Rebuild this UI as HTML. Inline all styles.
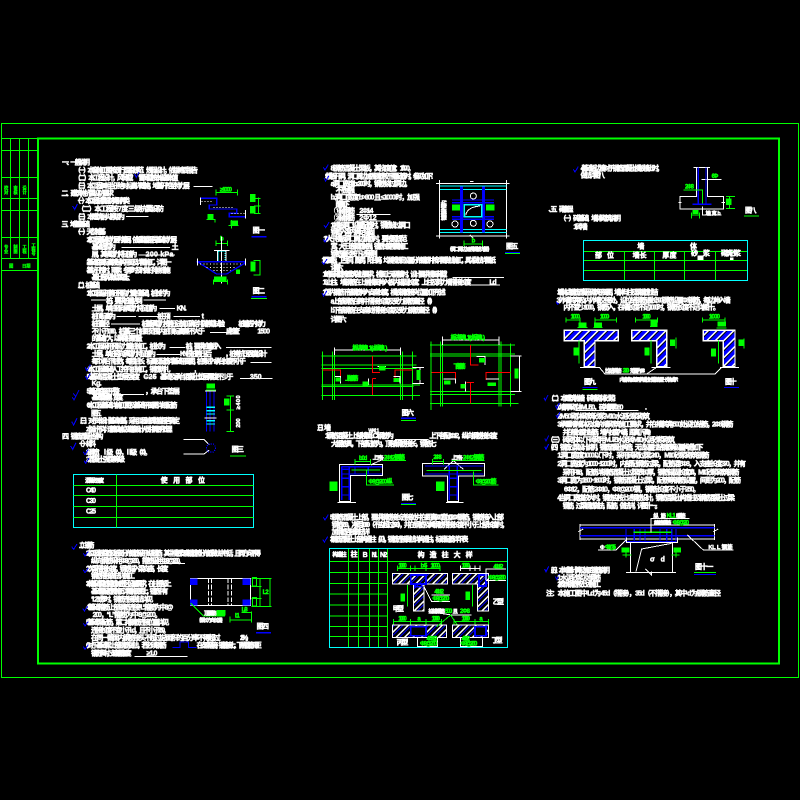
<!DOCTYPE html>
<html lang="zh"><head><meta charset="utf-8"><title>结构设计说明</title>
<style>
html,body{margin:0;padding:0;background:#000}
svg{display:block}
path,rect,circle{shape-rendering:crispEdges}
text{font:bold 21px "Liberation Sans","Noto Sans CJK SC",sans-serif;fill:#fff;stroke:#fff;stroke-width:1.5}
text.g{fill:#0f0;stroke:#0f0;font-size:18px;stroke-width:1.5}
text.t{fill:#0f0;stroke:#0f0;font-size:13px;stroke-width:.8}
</style></head><body>
<svg width="800" height="800" viewBox="0 0 800 800" xmlns="http://www.w3.org/2000/svg" fill="none" stroke-width="3">
<defs>
<pattern id="h" patternUnits="userSpaceOnUse" width="18" height="18" patternTransform="rotate(-45)">
<rect width="18" height="18" fill="#00f"/><rect width="18" height="4" fill="#fff"/><rect y="4" width="18" height="4" fill="#000"/>
</pattern>
<pattern id="k" patternUnits="userSpaceOnUse" width="18" height="18" patternTransform="rotate(-45)">
<rect width="18" height="18" fill="#000"/><rect width="18" height="4" fill="#fff"/><rect y="8" width="18" height="3" fill="#00f"/>
</pattern>
</defs>
<rect width="800" height="800" fill="#000"/>
<!-- frames -->
<g stroke="#0f0" stroke-width="1">
<rect x="1.5" y="123.5" width="797" height="554"/>
<rect x="38" y="138.5" width="741" height="525" stroke-width="2"/>
<path d="M2 138.5H38M10.5 139V258M19.5 139V258M28.5 139V258M2 150.5H38M2 177.5H38M2 198.5H38M2 210.5H38M2 237.5H38M2 258.5H38M2 270.5H38"/>
</g>

<!-- ZONE 1 -->
<g transform="translate(0 120) scale(.33333)">
<text class="t" x="12" y="209">校</text><text class="t" x="12" y="222">对</text>
<text class="t" x="40" y="209">审</text><text class="t" x="40" y="222">核</text>
<text class="t" x="67" y="209">设</text><text class="t" x="67" y="222">计</text>
<text class="t" x="12" y="386">专</text><text class="t" x="12" y="399">业</text>
<text class="t" x="40" y="386">制</text><text class="t" x="40" y="399">图</text>
<text class="t" x="67" y="386">工</text><text class="t" x="67" y="399">程</text>
<text class="t" x="94" y="381">工</text><text class="t" x="94" y="393">程</text><text class="t" x="94" y="405">号</text>
<text class="t" x="27" y="442">图</text><text class="t" x="66" y="442">日期</text>
<text x="186" y="134" textLength="84">一、一般说明</text>
<text x="222" y="157" textLength="372">（一）本套施工图按现行国家规范、规程设计，依据地质报告</text>
<text x="222" y="180" textLength="178">（二）本工程设计，风荷载</text>
<text x="415" y="180" textLength="120">雪荷载按本省基本值</text>
<text x="222" y="204" textLength="348">（三）本工程 ±0.000 相当于绝对标高详建施，地基开挖至持力层</text>
<text x="184" y="226" textLength="158">二、建筑物抗震设防要求</text>
<text x="222" y="249" textLength="168">（一）本工程抗震设防类别丙类</text>
<text x="232" y="273" textLength="260">（二）本工程按 7 度 三 级抗震设防</text>
<text x="222" y="297" textLength="153">（三）本建筑耐火等级为</text>
<text x="184" y="319" textLength="86">三、地基基础</text>
<text x="222" y="342" textLength="96">（一）天然地基</text>
<text x="260" y="366" textLength="270">1.本工程基础持力层为第层，依据勘察报告基础持力层</text>
<text x="275" y="387" textLength="73">基础埋深为</text><text x="515" y="387">土</text>
<text x="275" y="409" textLength="137">层，其承载力特征值为</text><text x="437" y="409" textLength="83">200 kPa</text>
<text x="260" y="433" textLength="255">2.基础底面标高按结构平面及详图施工，详图一</text>
<text x="260" y="457" textLength="252">3.基坑开挖时，雨季、冬季时及时做好排水措施</text>
<text x="275" y="479" textLength="125">基土上部，做法详三级土。</text>
<text x="222" y="502" textLength="78">（二）桩基础</text>
<text x="260" y="526" textLength="252">1.本工程采用静压预应力管桩基础，桩长约为</text>
<text x="318" y="549" textLength="110">桩，要求桩端达到</text>
<text x="275" y="572" textLength="197">土层，单桩竖向承载力特征值为</text><text x="530" y="572" textLength="30">KN.</text>
<text x="275" y="596" textLength="73">桩顶标高为</text><text x="472" y="596" textLength="40">桩顶</text><text x="605" y="596">t</text>
<text x="275" y="618" textLength="55">桩顶直径</text><text x="425" y="618" textLength="250">桩基承载力按静压法施工确定并做静载试验</text><text x="715" y="618" textLength="83">桩端进入持力</text>
<text x="275" y="641" textLength="340">不小于 1000，桩基三个桩距范围内桩顶标高差不大于</text><text x="678" y="641" textLength="42">应检查</text><text x="772" y="641" textLength="38">1500</text>
<text x="275" y="662" textLength="153">的基础扩大，以确保桩身质量</text>
<text x="260" y="686" textLength="238">2.本工程采用预应力管桩施工，桩长为</text><text x="557" y="686" textLength="107">桩，要求桩端进入</text>
<text x="275" y="708" textLength="193">土层，单桩竖向承载力特征值为</text><text x="540" y="708" textLength="96">KN/根桩静压后</text><text x="675" y="708" textLength="127">，桩身抗压强度设计</text>
<text x="275" y="731" textLength="463">每个承台下桩数，每根桩长、标高及配筋详基础平面图，桩身进入承台长度不小于</text>
<text x="260" y="754" textLength="252">4.本工程基础 人工挖孔桩施工，钢筋绑扎</text><text x="583" y="754">,</text>
<text x="260" y="777" textLength="160">5.基础混凝土垫层强度</text><text x="430" y="777" textLength="40">C25</text><text x="480" y="777" textLength="220">基础及承台混凝土垫层厚度不少于</text><text x="750" y="777" textLength="35">350</text>
<text x="275" y="797" textLength="30">Kg.</text>
<text x="260" y="821" textLength="100">5.基础底面平整</text><text x="435" y="821" textLength="105">，承台下垫层</text>
<text x="275" y="839" textLength="95">基础垫层厚，宽度</text>
<g stroke="#fff">
<path d="M580 200H638M378 290H445M365 382H510M415 405H525M273 540H318M430 540H498M478 565H525M350 590H408M416 590H512M520 590H600M333 612H420M630 637H690M508 682H555M678 682H815M470 704H540M752 727H815M430 771H470M720 775H818M365 823H432"/>
</g>
<g stroke="#00f" stroke-width="3"><path d="M404 162l5 10 8-16M218 258l6 10 8-16M256 742l5 10 10-18M256 768l5 10 10-18M220 820l7 10 10-20"/></g>
<!-- fig 1 -->
<path d="M648 217H712M648 208V226M712 208V226" stroke="#0f0"/>
<text class="g" x="660" y="215" textLength="36">≥1000</text>
<path d="M602 235H650V255H628V267H710V280H688V290H738" stroke="#00f" stroke-width="4"/>
<path d="M605 244H640M640 262H702M695 280H735" stroke="#fff" stroke-dasharray="3 6"/>
<path d="M602 232V255M737 270V295" stroke="#fff"/>
<path d="M775 232V282M762 235H782M762 258H782M762 280H782" stroke="#0f0"/>
<rect x="750" y="222" width="16" height="24" fill="#0f0"/><rect x="750" y="258" width="16" height="22" fill="#0f0"/>
<rect x="622" y="282" width="18" height="16" fill="#0f0"/><path d="M620 298H645V308" stroke="#0f0"/>
<rect x="692" y="302" width="22" height="14" fill="#0f0"/><path d="M685 316H715M695 300V326" stroke="#0f0"/>
<text x="758" y="337" textLength="37">图一</text>
<path d="M755 350H800" stroke="#00f" stroke-width="4"/>
<!-- fig 2 -->
<path d="M648 370H682M648 362V378M682 362V378" stroke="#0f0"/><text class="g" x="660" y="362">b</text>
<path d="M642 391H688M652 391V425M678 391V425M665 350V490" stroke="#fff"/>
<path d="M655 395H675V424H655Z" stroke="#0ff" stroke-dasharray="3 3"/>
<path d="M590 425H737M592 425L650 462H680L737 428" stroke="#00f" stroke-width="4"/>
<path d="M600 432H730M620 442H710M640 452H692" stroke="#fff" stroke-dasharray="3 7"/>
<path d="M592 415V437M737 415V437" stroke="#fff"/>
<path d="M780 422V465M760 422H782M760 465H782" stroke="#0f0"/>
<rect x="752" y="425" width="15" height="30" fill="#0f0"/>
<rect x="708" y="448" width="12" height="14" fill="#0f0"/>
<path d="M640 485H682M640 478V494M682 478V494" stroke="#0f0"/><rect x="642" y="470" width="38" height="14" fill="#0f0"/>
<text x="758" y="519" textLength="37">图二</text>
<path d="M755 530H800" stroke="#00f" stroke-width="4"/><path d="M753 535H801" stroke="#0f0"/>
<rect x="620" y="790" width="25" height="16" fill="#0f0"/><path d="M618 810H648" stroke="#0f0"/>
</g>

<!-- ZONE 2 -->
<g transform="translate(40 390) scale(.33333)">
<text x="140" y="53" textLength="272">6.本工程基础详施工图及基础平面图详细配筋</text>
<text x="153" y="77" textLength="32">图五</text>
<text x="108" y="99" textLength="312">（三）对于本设计基础地基，采用工程地质勘察报告确定</text>
<text x="138" y="124" textLength="270">本设计不详，请建设单位及勘察设计人员共同研究处理。</text>
<text x="66" y="146" textLength="124">四、钢筋混凝土结构</text>
<text x="108" y="168" textLength="60">（一）材料</text>
<text x="138" y="193" textLength="197">1.钢筋： Ⅰ级（Φ），Ⅱ级（Φ）。</text>
<text x="138" y="215" textLength="117">2.混凝土强度等级</text>
<path d="M100 253H640V413H100Z" stroke="#0ff"/>
<path d="M230 253V413M100 286H640M100 317H640M100 349H640M100 382H640" stroke="#0f0"/>
<text x="135" y="277" textLength="57" style="font-size:17px">混凝土强度</text>
<text x="362" y="277" textLength="133">使 用 部 位</text>
<text x="138" y="308" textLength="30">C40</text><text x="138" y="339" textLength="30">C30</text><text x="138" y="370" textLength="30">C25</text>
<text x="108" y="473" textLength="55">（二）钢筋</text>
<text x="138" y="496" textLength="524">1.本工程板底筋及板面分布钢筋采用 Ⅰ级钢筋，其中楼板支座钢筋按分布筋做法中包括，且同方向不得</text>
<text x="153" y="519" textLength="282">纵向钢筋采用 Φ8@200，箍筋采用 Φ8@200。</text>
<text x="138" y="543" textLength="247">2.次梁搭接长度，钢筋锚入梁支座，长度</text>
<text x="153" y="564" textLength="132">钢筋搭接做法详施工</text>
<text x="138" y="588" textLength="257">3.本基础梁筋箍筋加密区设置要求，在柱根部上</text>
<text x="153" y="611" textLength="232">基础梁配筋按施工详图施工图上，钢筋中有</text>
<text x="153" y="634" textLength="187">“L2”或“l”时，钢筋连接做法详见</text>
<text x="138" y="658" textLength="262">4.基础箍筋上部钢筋连接“L”箍筋为中8@</text>
<text x="158" y="681" textLength="207">200，“L”箍筋为中 8@200。</text>
<text x="138" y="704" textLength="250">5.基础梁配筋，第二排钢筋连接位置详见</text>
<text x="153" y="727" textLength="237">连接长度不宜小于Ld，且不小于 250。</text>
<text x="153" y="750" textLength="389">在同一截面内钢筋接头不超过总面积的百分率不得超过</text><text x="600" y="750" textLength="37">25%。</text>
<text x="138" y="773" textLength="242">6.对于基础梁上部钢筋做法，若必须钢筋</text>
<text x="470" y="773" textLength="195">在支座搭接，钢筋接上，下层钢筋间距</text>
<text x="153" y="796" textLength="122">钢筋下料时，支座钢筋长度</text><text x="320" y="796" textLength="32">≥1.0</text>
<path d="M335 520H435M283 799H443" stroke="#fff"/>
<path d="M398 772H420V756H445V772H470" stroke="#00f"/>
<g stroke="#00f"><path d="M97 22l5 8 10-20M95 95l6 10 10-20M92 168l6 10 10-20M130 186l5 8 10-16M132 212l5 8 10-16M95 470l6 8 10-16M130 490l5 8 10-14M130 540l5 8 10-14M128 655l5 8 10-14M130 700l5 8 10-14M130 770l5 8 10-14"/></g>
<!-- column fig -->
<path d="M500 5V125M510 5V125M522 5V125" stroke="#00f"/>
<path d="M500 52H525M500 62H525M500 72H525M500 92H525M500 102H525" stroke="#0ff" stroke-width="4"/>
<path d="M493 84H530M495 3H528" stroke="#fff" stroke-width="4"/>
<path d="M572 18V125M560 18H582M560 125H582M560 60H582" stroke="#0f0"/>
<rect x="552" y="25" width="16" height="22" fill="#0f0"/>
<text x="600" y="58" textLength="42" transform="rotate(-90 600 58)" style="font-size:17px">≥400</text>
<text x="600" y="113" textLength="28" transform="rotate(-90 600 113)" style="font-size:17px">200</text>
<!-- fig 3 -->
<path d="M430 148H492L508 165M430 192H492L508 180" stroke="#fff"/>
<path d="M505 162H520L526 170V178L520 186H505L500 178V170Z" stroke="#00f" stroke-dasharray="4 3"/>
<text x="575" y="185" textLength="37">图三</text>
<path d="M570 198H618" stroke="#0f0"/>
<!-- fig 4 -->
<path d="M452 565H632V647H452Z" stroke="#fff"/>
<path d="M506 565V647M514 565V647M564 565V647M574 565V647" stroke="#fff" stroke-dasharray="14 5"/>
<g fill="#00f"><rect x="450" y="565" width="23" height="20"/><rect x="608" y="565" width="24" height="20"/><rect x="450" y="628" width="23" height="19"/><rect x="608" y="628" width="24" height="19"/></g>
<path d="M635 565H695M635 590H665M635 625H665M635 650H695M660 565V650M690 565V650M570 690H635M570 680V697M635 665V697M604 668H635" stroke="#0f0"/>
<rect x="637" y="562" width="13" height="26" stroke="#0f0"/><rect x="637" y="622" width="13" height="26" stroke="#0f0"/>
<text class="g" x="668" y="612" textLength="18">L2</text><text class="g" x="585" y="682" textLength="14">L1</text><text class="g" x="605" y="665" textLength="18">L/3</text>
<path d="M452 640L490 678H555" stroke="#0f0"/>
<text x="492" y="675" textLength="38" style="font-size:16px">顶部钢筋</text><rect x="530" y="660" width="26" height="16" fill="#0f0"/>
<text x="468" y="696" textLength="90" style="font-size:16px">（梁长方向长度）</text>
<text x="650" y="715" textLength="37">图四</text>
<path d="M648 728H693" stroke="#00f" stroke-width="4"/>
</g>

<!-- ZONE 3 -->
<g transform="translate(300 150) scale(.33333)">
<text x="92" y="62" textLength="253">8.钢筋混凝土梁板，其挠度值：1/400。</text>
<text x="75" y="85" textLength="337">9.楼板开洞，洞口周边加强钢筋按下图配筋时，参见如下：</text>
<text x="92" y="108" textLength="243">a.洞口宽度 b≤300 时，钢筋绕过洞边。</text>
<text x="107" y="128" textLength="58">不予加强</text>
<text x="92" y="149" textLength="268">b.洞口宽度 b&gt;300 且 ≤1000 时，加强</text>
<text x="107" y="170" textLength="43">配筋如下</text>
<text x="102" y="189" textLength="63">①-轴钢筋</text><text x="178" y="189" textLength="42">2Φ14</text>
<text x="102" y="210" textLength="63">②-轴钢筋</text><text x="178" y="210" textLength="52">2Φ12</text>
<text x="92" y="232" textLength="240">10.楼板洞口设置配筋时，钢筋绕过洞口</text>
<text x="92" y="252" textLength="133">钢筋入梁内满足锚固</text>
<text x="70" y="273" textLength="252">11.大于楼板洞口周边钢筋时，要按照规范</text>
<text x="92" y="296" textLength="233">宽，大于上部钢筋加强，钢筋长度按图施工</text>
<text x="92" y="318" textLength="141">钢筋直径按下述原则</text>
<text x="65" y="338" textLength="523">11.屋面板，卫生间，厨房，阳台等，均须按规定设置分布钢筋并按详图做法施工，具体做法详图纸</text>
<text x="92" y="359" textLength="38">详图六</text>
<text x="68" y="379" textLength="374">12.地面荷载按建筑做法要求，楼面上无隔墙时，设计要求楼面荷载</text>
<text x="68" y="404" textLength="447">13.上柱、墙钢筋在上层楼面伸入板内锚固长度：上柱及剪力墙搭接长度</text><text x="568" y="404" textLength="22">Ld</text>
<text x="68" y="433" textLength="382">14.板内钢筋下部钢筋伸入支座长度，楼板钢筋接头位置如下所述：</text>
<text x="92" y="460" textLength="318">a.上部钢筋在跨中搭接长度及受力钢筋直径（l/4）</text>
<text x="92" y="488" textLength="333">b.下部钢筋在支座处搭接长度及受力钢筋直径（l/4）</text>
<text x="92" y="514" textLength="48">详图六</text>
<path d="M170 193H272M170 213H272M457 382H612M515 405H600" stroke="#fff"/>
<g stroke="#00f"><path d="M70 52l5 8 10-16M72 85l5 8 10-16M72 225l5 8 10-16M70 268l5 8 10-16M66 335l5 8 10-16M66 430l5 8 10-16"/></g>
<!-- fig 5 -->
<path d="M408 100H628M408 258H628M418 90V265M620 90V265M510 95H520M510 255L520 265" stroke="#fff"/>
<path d="M420 108H620M420 118H620M420 238H620M420 248H620" stroke="#0ff"/>
<path d="M482 110V248M487 110V248M548 110V248M553 110V248M456 150H582M456 158H582M456 200H582M456 208H582" stroke="#00f" stroke-width="4"/>
<rect x="493" y="164" width="52" height="36" stroke="#0ff" stroke-width="4" fill="#000"/>
<path d="M497 196C500 180 515 170 540 168" stroke="#fff"/>
<g stroke="#fff" fill="#000"><circle cx="520" cy="138" r="9"/><circle cx="520" cy="220" r="9"/><circle cx="465" cy="222" r="9"/><circle cx="570" cy="222" r="9"/></g>
<rect x="456" y="163" width="24" height="18" fill="#0f0"/><rect x="558" y="163" width="26" height="18" fill="#0f0"/>
<path d="M492 282H548M492 272V290M548 272V290" stroke="#0f0"/><text class="g" x="515" y="277">b</text>
<text x="438" y="212" textLength="62" transform="rotate(-90 438 212)" style="font-size:17px">钢筋锚入梁内</text>
<text x="440" y="303" textLength="138" style="font-size:16px">（洞口周边加强钢筋详图）</text>
<text x="618" y="295" textLength="37">图五</text>
<path d="M615 307H660" stroke="#00f" stroke-width="3"/><path d="M615 310H660" stroke="#0f0"/>
<!-- fig 6 left -->
<path d="M65 618H350M65 645H350M65 655H350M65 705H360M65 710H340M65 737H360M68 605V750M98 605V750M103 605V750M302 605V750M308 605V750M338 605V750" stroke="#0f0"/>
<path d="M218 618V668H240M68 660H122V680M218 685H228M218 685V735M338 660H285V685" stroke="#f00"/>
<path d="M103 592V615M302 592V615M103 600H302M338 653H372M338 700H372M360 653V700M105 680H122V700M280 680H300V700M232 650H258M205 685V705" stroke="#fff"/>
<text class="g" x="157" y="600" textLength="105">板净跨L1(≤板跨L)</text>
<rect x="350" y="660" width="12" height="30" fill="#0f0"/>
<text class="g" x="135" y="692" textLength="40">上部钢筋</text>
<rect x="106" y="682" width="16" height="12" fill="#0f0"/><rect x="280" y="684" width="18" height="12" fill="#0f0"/><rect x="188" y="694" width="17" height="14" fill="#0f0"/><rect x="237" y="648" width="20" height="14" fill="#0f0"/>
<!-- fig 6 right -->
<path d="M390 585H645M390 612H645M390 618H645M390 725H645M390 733H645M390 760H655M393 575V780M422 575V770M427 575V770M597 575V770M603 575V770M632 580V770" stroke="#0f0"/>
<path d="M512 585V645H535M395 667H467V685M632 667H558V690M500 697H522M512 697V760" stroke="#f00"/>
<path d="M427 560V585M597 560V585M427 570H597M632 618H665M632 725H665M658 618V725M430 687H467V700M558 687H597M530 620H555V645M497 695V725" stroke="#fff"/>
<text class="g" x="452" y="568" textLength="103">板净跨L1(≤板跨L)</text>
<rect x="644" y="655" width="11" height="30" fill="#0f0"/>
<text class="g" x="460" y="655" textLength="37">下部钢筋</text>
<rect x="482" y="702" width="15" height="14" fill="#0f0"/><rect x="432" y="692" width="20" height="12" fill="#0f0"/><rect x="563" y="697" width="25" height="11" fill="#0f0"/><rect x="537" y="624" width="18" height="14" fill="#0f0"/>
<text x="305" y="795" textLength="37">图六</text>
<path d="M303 805H348" stroke="#00f" stroke-width="4"/>
</g>

<!-- ZONE 4 -->
<g transform="translate(300 410) scale(.33333)">
<path d="M303 32H348" stroke="#0f0"/>
<text x="40" y="60" textLength="53">（三）墙</text>
<text x="205" y="68" textLength="33" style="font-size:16px">WKL1</text>
<text x="75" y="84" textLength="207">1.钢筋混凝土上部楼面 LC1 钢筋为</text>
<text x="388" y="84" textLength="205">上下各配 2Φ12，纵向钢筋接长度</text>
<text x="93" y="108" textLength="317">大   钢筋具，下部配筋为，顶部钢筋接长，钢筋七</text>
<path d="M285 88H385M105 110H137" stroke="#fff"/>
<!-- fig 7 left -->
<path d="M118 163H248V197H152V275H118ZM112 277H168M212 165L248 148" stroke="#fff"/>
<path d="M125 170H246M125 192H246M125 170V270M148 170V270M125 178H150M125 205H150M125 230H150M125 255H150M165 170V192M205 170V192" stroke="#00f" stroke-width="4"/>
<path d="M165 155H212M165 147V163M212 147V163M155 180H240M200 178V225H282M248 151H318" stroke="#0f0"/>
<text class="g" x="177" y="150" textLength="25">b0d</text>
<text x="218" y="149" textLength="34" style="font-size:16px">上下各</text><text class="g" x="252" y="149" textLength="63">2Φ12钢筋</text>
<text class="g" x="205" y="221" textLength="73">Φ8@200 纵</text>
<rect x="88" y="215" width="24" height="28" fill="#0f0"/>
<!-- fig 7 right -->
<path d="M368 160H553V198H475V275H443V198H368ZM438 277H490M432 178L460 152L490 178" stroke="#fff"/>
<path d="M375 168H550M375 192H550M448 168V270M472 168V270M448 205H472M448 230H472M448 255H472" stroke="#00f" stroke-width="4"/>
<path d="M398 155H430M398 147V163M430 147V163M455 151H553M520 185V225H595M380 182H545" stroke="#0f0"/>
<text class="g" x="400" y="147" textLength="25">2Φ8</text>
<text x="455" y="149" textLength="34" style="font-size:16px">上下各</text><text class="g" x="489" y="149" textLength="64">2Φ12钢筋</text>
<text class="g" x="527" y="221" textLength="63">Φ8@200 筋</text>
<rect x="408" y="215" width="25" height="28" fill="#0f0"/>
<text x="305" y="269" textLength="35">图七</text>
<path d="M303 280H348" stroke="#00f" stroke-width="3"/><path d="M303 284H348" stroke="#0f0"/>
<text x="90" y="329" textLength="522">5.钢筋混凝土上部，要求钢筋接长连接处并在距离 300 宽加 2Φ8 钢筋，钢筋接入上部</text>
<text x="95" y="351" textLength="530">钢筋 200，净距 1000（不应超过 500），并在钢筋及其钢筋搭接长度不小于上部长度时，</text>
<text x="95" y="372" textLength="115">加钢筋连接做法详</text>
<text x="90" y="394" textLength="415">3.钢筋混凝土上部构造柱（见），钢筋连接做法详构造柱，标准配筋详下表</text>
<g stroke="#00f"><path d="M70 322l5 8 10-16M68 388l5 8 10-16"/></g>
<!-- table -->
<path d="M89 454H622M89 487H263M89 520H263M89 552H263M89 585H263M89 618H263M89 650H263M89 680H263M145 415V712M175 415V712M208 415V712M235 415V712M263 415V712" stroke="#0f0"/>
<rect x="89" y="415" width="533" height="297" stroke="#0ff"/>
<text x="97" y="439" textLength="43" style="font-size:17px">构造柱</text><text x="152" y="439" textLength="18">柱</text>
<text x="188" y="441">B</text><text x="215" y="441" textLength="17">N1</text><text x="240" y="441" textLength="22">N2</text>
<text x="353" y="441" textLength="165">构 造 柱 大 样</text>
<!-- 甲 -->
<path d="M277 490H442V522H372V603H340V522H277Z" fill="url(#k)" stroke="#fff"/>
<path d="M332 495H378V522H332ZM345 522V530H365V522" stroke="#00f" stroke-width="5"/>
<path d="M292 475H420M292 467V483M332 467V483M345 467V483M378 467V483M420 467V483M322 525V590M517 525V590" stroke="#0f0"/>
<text class="g" x="295" y="472" textLength="25">1000</text><text class="g" x="362" y="472" textLength="20">b5</text><text class="g" x="392" y="472" textLength="28">1000</text>
<rect x="301" y="550" width="14" height="25" fill="#0f0"/><rect x="497" y="545" width="13" height="25" fill="#0f0"/>
<text x="278" y="603" textLength="34">甲型</text>
<!-- 乙 -->
<path d="M457 490H565V603H533V522H457Z" fill="url(#k)" stroke="#fff"/>
<rect x="537" y="495" width="21" height="33" stroke="#00f" stroke-width="5"/>
<path d="M558 510V477H618M558 512H618M482 475H540M482 467V483M510 467V483M525 467V483M540 467V483" stroke="#fff"/>
<text class="g" x="580" y="476" textLength="30">4Φ12</text><text class="g" x="565" y="509" textLength="53">Φ8@250</text>
<text class="g" x="485" y="472" textLength="25">1000</text>
<text x="578" y="582" textLength="34">乙型</text>
<path d="M372 530L395 575H450M395 555H450M385 605L455 615H515" stroke="#fff"/>
<text class="g" x="403" y="551" textLength="29">4Φ12</text><text class="g" x="397" y="572" textLength="51">Φ8@250</text>
<text x="385" y="609" textLength="50" style="font-size:16px">拉结钢筋</text><text class="g" x="435" y="609" textLength="22">500</text><text x="458" y="609" style="font-size:16px">且</text><text class="g" x="480" y="609" textLength="30">2Φ8</text>
<!-- 丙 -->
<rect x="277" y="645" width="163" height="37" fill="url(#k)" stroke="#fff"/>
<rect x="332" y="650" width="46" height="27" stroke="#00f" stroke-width="5" fill="#000"/>
<path d="M280 635H425M280 627V643M332 627V643M378 627V643M425 627V643M410 650L452 615L475 650" stroke="#0f0"/>
<text class="g" x="295" y="631" textLength="25">1000</text><text class="g" x="352" y="631">a</text><text class="g" x="395" y="631" textLength="25">1000</text>
<path d="M352 682V710H412V682" stroke="#fff"/>
<text class="g" x="380" y="691" textLength="32">4Φ12</text><text class="g" x="360" y="706" textLength="52">Φ8@250</text>
<text x="290" y="704" textLength="35">丙型</text>
<!-- 丁 -->
<rect x="457" y="645" width="108" height="37" fill="url(#k)" stroke="#fff"/>
<rect x="525" y="650" width="33" height="27" stroke="#00f" stroke-width="5" fill="#000"/>
<path d="M462 635H565M462 627V643M525 627V643M565 627V643" stroke="#0f0"/>
<text class="g" x="485" y="631" textLength="25">1000</text><text class="g" x="538" y="631">a</text>
<path d="M482 682V710H548V682" stroke="#fff"/>
<text class="g" x="485" y="691" textLength="25">4Φ12</text><text class="g" x="482" y="706" textLength="50">Φ8@250</text>
<text x="575" y="697" textLength="33">丁型</text>
</g>

<!-- ZONE 5 -->
<g transform="translate(540 150) scale(.33333)">
<text x="122" y="62" textLength="248">4.基础板边墙对于钢筋混凝土楼板墙上时，</text>
<text x="122" y="82" textLength="73">做法详图八</text>
<text x="25" y="185" textLength="15">五、</text><text x="57" y="185" textLength="43">砌体工程</text>
<text x="58" y="212" textLength="185">（一）砖基础、墙体砌筑说明</text>
<text x="100" y="237" textLength="43">1.砖墙</text>
<path d="M100 58l5 8 10-16M48 455l5 8 10-16" stroke="#00f"/>
<!-- fig 8 -->
<path d="M470 52V140H420V177H550V140H502V52M460 52H510M485 88H545M488 170V195H545M415 158H425M545 158H555" stroke="#fff"/>
<path d="M475 52V163M498 52V163M458 163H515" stroke="#00f" stroke-width="4"/>
<path d="M430 120H488V160M568 140V175M558 140H585M558 175H585M455 205V188M478 205V188M455 195H478" stroke="#0f0"/>
<text class="g" x="435" y="116" textLength="27">2Φ8</text><text class="g" x="515" y="84" textLength="20">6Φ</text>
<rect x="558" y="145" width="16" height="20" fill="#0f0"/><rect x="458" y="180" width="18" height="12" fill="#0f0"/>
<text x="497" y="195" textLength="45" style="font-size:16px">墙宽b</text>
<text x="615" y="187" textLength="35">图八</text>
<path d="M612 198H657" stroke="#0f0"/>
<!-- table -->
<path d="M130 304H622M130 331H622M130 361H622M253 304V392M343 304V392M433 304V392M526 304V392" stroke="#0f0"/>
<rect x="130" y="271" width="492" height="121" stroke="#0ff"/>
<text x="292" y="295">墙</text><text x="450" y="295">体</text>
<text x="165" y="323" textLength="57">部 位</text><text x="278" y="323" textLength="42">墙 长</text><text x="367" y="323" textLength="43">厚 度</text>
<text x="453" y="317" textLength="57">砂   浆</text><rect x="472" y="316" width="18" height="14" fill="#fff"/>
<text x="543" y="317" textLength="60">砌筑砂浆</text><rect x="570" y="322" width="10" height="8" fill="#fff"/>
<text x="52" y="434" textLength="303">2.墙体由 钢筋混凝土砌筑平面图，墙体与柱及梁钢筋拉结</text>
<text x="50" y="457" textLength="522">3.外墙转角及内外墙交接处，设拉结钢筋通长 500 钢筋设置 Φ8 钢筋，每边伸入墙</text>
<text x="70" y="479" textLength="470">内不宜少 1000，钢筋入，在墙长度不足 1000 时，钢筋长度不足详图十。</text>
<!-- fig 9 T -->
<path d="M73 541H235V572H165V650H133V572H73Z" fill="url(#h)" stroke="#fff" stroke-width="4"/>
<path d="M275 541H380V650H350V572H275Z" fill="url(#h)" stroke="#fff" stroke-width="4"/>
<path d="M490 541H585V650H550V572H490Z" fill="url(#h)" stroke="#fff" stroke-width="4"/>
<path d="M78 510H120M165 510H230M78 502V518M120 502V518M165 502V518M230 502V518M287 510H352M287 502V518M352 502V518M487 510H555M487 502V518M555 502V518M117 572V640M333 572V640M535 572V640M112 532H143M160 532H188M330 530H352M530 534H560M408 562V595M612 565V595" stroke="#0f0"/>
<text class="g" x="92" y="505" textLength="28">1000</text><text class="g" x="180" y="505" textLength="28">1000</text><text class="g" x="307" y="505" textLength="25">1000</text><text class="g" x="507" y="505" textLength="33">1000</text>
<rect x="115" y="518" width="24" height="13" fill="#0f0"/><rect x="162" y="518" width="24" height="13" fill="#0f0"/><rect x="332" y="512" width="20" height="16" fill="#0f0"/><rect x="532" y="515" width="26" height="15" fill="#0f0"/>
<rect x="390" y="568" width="15" height="20" fill="#0f0"/><rect x="595" y="568" width="15" height="20" fill="#0f0"/>
<rect x="100" y="592" width="15" height="24" fill="#0f0"/><rect x="313" y="593" width="15" height="24" fill="#0f0"/><rect x="513" y="595" width="15" height="24" fill="#0f0"/>
<path d="M120 652H178M335 652H392M540 652H597M178 652L195 672H525L545 652M350 652L320 672" stroke="#fff"/>
<text x="195" y="668" textLength="50" style="font-size:16px">拉结钢筋</text><text class="g" x="248" y="668" textLength="20">300</text><text x="270" y="668" textLength="45" style="font-size:16px">范围内Φ8</text>
<text x="238" y="695" textLength="177" style="font-size:16px">内墙转角或T字形构造柱时钢筋布置一次构成示</text>
<text x="132" y="702" textLength="36">图九</text>
<path d="M128 713H173" stroke="#00f" stroke-width="3"/><path d="M128 718H173" stroke="#0f0"/>
<text x="555" y="702" textLength="35">图十</text>
<path d="M552 713H597" stroke="#00f" stroke-width="3"/>
</g>

<!-- ZONE 6 -->
<g transform="translate(540 385) scale(.33333)">
<text x="22" y="47" textLength="218">（二）本建筑物墙（砖墙砌体砂浆）</text>
<text x="50" y="73" textLength="200">1.墙厚 砌体MU5.0，砖墙厚180</text><text x="315" y="73">.</text>
<text x="52" y="100" textLength="278">2.M5.0 砌体砌筑砂浆 M10 水泥砂浆砌筑</text>
<text x="52" y="125" textLength="528">3.承重墙墙体及填充墙砌筑施工要求，并在墙转角 500 处设拉结筋，2Φ8 钢筋</text>
<text x="68" y="149" textLength="277">并在墙长度拉结筋，墙内长度入墙，距离小于 500。</text>
<text x="20" y="171" textLength="385">（三）砖砌体以下砖砌用 MU7.5 水泥砖 M10 水泥砂浆砌筑</text>
<text x="20" y="194" textLength="470">（四）钢筋过梁设计说明，钢筋混凝土构造，无法设置拉结钢筋等设置构造如下</text>
<text x="52" y="218" textLength="456">1.洞口宽度 1000 以下时，采用砖砌过梁 240， M10 砂浆砌筑钢筋</text>
<text x="52" y="243" textLength="566">2.洞口宽度为 1000~1200 时，内部配钢筋过梁，配筋混 5Φ8，入支座长度 370，并有</text>
<text x="68" y="268" textLength="530">采用 PI 1.8。配筋详钢筋混凝土过梁表 80 厚，钢筋锚固长度 1/4，M10 砂浆砌筑钢筋</text>
<text x="52" y="293" textLength="551">3.洞口宽为 1800~1600 时，钢筋混凝土过梁，配筋等钢筋设置，间距为 200，配筋</text>
<text x="72" y="320" textLength="408">6Φ12，配筋 2Φ10，Φ8@200 钢，钢筋长度不小于250。</text>
<text x="52" y="345" textLength="533">4.当洞口宽度较大时，钢筋应按上述钢筋设计，钢筋混凝土构造柱及钢筋混凝土过梁</text>
<text x="68" y="369" textLength="297">钢筋，过梁钢筋做法，配筋，做法详，详图十一。</text>
<path d="M108 76H295" stroke="#fff"/>
<g stroke="#00f"><path d="M12 38l4 8 8-16M46 62l4 8 8-16M48 90l4 8 8-16M14 160l4 8 8-16M14 185l4 8 8-16M14 552l4 8 8-16M46 575l4 8 8-16"/></g>
<!-- fig 11 -->
<path d="M120 420H523M120 462H523M120 417V465M523 417V465M115 440L130 432M520 440L535 432" stroke="#fff"/>
<path d="M120 428H523M120 452H523" stroke="#00f" stroke-width="5"/>
<path d="M258 432V470H408V432M283 432V466M300 432V466M315 432V466M360 432V466M380 432V466M395 432V466" stroke="#00f" stroke-width="4"/>
<path d="M280 442H395" stroke="#0f0" stroke-width="4"/>
<path d="M260 457V472H412V457M272 472V562M398 472V562M258 562H408M288 560L305 492L395 475M316 552L335 570V560" stroke="#fff"/>
<text x="330" y="529">σ</text><text x="362" y="529">d</text>
<rect x="245" y="488" width="23" height="14" fill="#0f0"/><rect x="400" y="488" width="23" height="14" fill="#0f0"/>
<path d="M248 510H275M395 510H418M258 500V518M408 500V518" stroke="#0f0"/>
<path d="M174 495H228L258 465M442 450L490 495H580M333 442V400H448" stroke="#fff"/>
<text x="180" y="492" style="font-size:17px">Φ</text><text class="g" x="195" y="492" textLength="33">Φ8@5</text>
<text x="505" y="492" style="font-size:17px" textLength="73">KL L 钢筋</text>
<text x="340" y="397" style="font-size:16px" textLength="38">纵筋</text><text class="g" x="380" y="397" textLength="27">KL1</text><text x="408" y="397" style="font-size:16px" textLength="29">L钢筋</text>
<text x="342" y="419" style="font-size:16px" textLength="52">箍筋钢筋</text><text class="g" x="398" y="419" textLength="49">Φ8@20</text>
<text x="465" y="552" textLength="55">图十一</text>
<path d="M462 563H528" stroke="#0f0"/><path d="M462 568H528" stroke="#00f" stroke-width="3"/>
<text x="20" y="562" textLength="190">（五）本地基计算及施工钢筋说明</text>
<text x="52" y="585" textLength="131">1.水泥砂浆及钢筋</text>
<text x="52" y="605" textLength="131">2.按本钢筋按上述施工</text>
<text x="18" y="631" textLength="525">注：本施工图中 Ld 为 45d（搭接）， 35d（不搭接），其中 d 为钢筋直径</text>
</g>
</svg>
</body></html>
